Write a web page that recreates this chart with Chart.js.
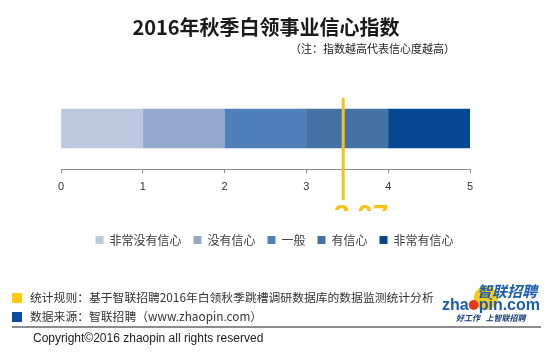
<!DOCTYPE html>
<html>
<head>
<meta charset="utf-8">
<script src="https://cdn.jsdelivr.net/npm/chart.js@4/dist/chart.umd.min.js"></script>
<style>
  html, body { margin: 0; padding: 0; background: #fff; }
  #wrap { position: relative; width: 550px; height: 353px; }
</style>
</head>
<body>
<div id="wrap"><canvas id="chart" width="550" height="353"></canvas></div>
<script>
'use strict';

const categories = ['白领事业信心指数'];
const levels = ['非常没有信心', '没有信心', '一般', '有信心', '非常有信心'];
const levelSpans = [1, 1, 1, 1, 1];
const levelColors = ['#BCC8DF', '#94A9CE', '#4F80BA', '#4472A4', '#044793'];
const indexValue = 3.45;
const indexLabel = '3.07';
const axisMin = 0;
const axisMax = 5;

const CJK = '"Noto Sans CJK SC", "Noto Sans", sans-serif';
const LATIN = '"Liberation Sans", Arial, sans-serif';

function buildDatasets() {
  return levels.map((name, i) => ({
    label: name,
    data: [levelSpans[i]],
    backgroundColor: levelColors[i],
    borderWidth: 0,
    barThickness: 39,
  }));
}

// title, marker, notes and logo around the bar
const extrasPlugin = {
  id: 'extras',
  afterDraw(chart) {
    const ctx = chart.ctx;
    const area = chart.chartArea;
    const x = chart.scales.x.getPixelForValue(indexValue);

    ctx.save();
    ctx.fillStyle = '#1a1a1a';
    ctx.textAlign = 'center';
    ctx.textBaseline = 'middle';
    ctx.font = 'bold 20px ' + CJK;
    ctx.fillText('2016年秋季白领事业信心指数', 266, 27);

    ctx.textAlign = 'left';
    ctx.font = '11px ' + CJK;
    ctx.fillStyle = '#222';
    ctx.fillText('（注：指数越高代表信心度越高）', 290, 49);

    // index marker
    ctx.strokeStyle = '#F6C315';
    ctx.lineWidth = 3;
    ctx.beginPath();
    ctx.moveTo(x, area.top + 10);
    ctx.lineTo(x, area.bottom + 31);
    ctx.stroke();

    ctx.save();
    ctx.beginPath();
    ctx.rect(0, 0, chart.width, area.bottom + 42);
    ctx.clip();
    ctx.fillStyle = '#F6C315';
    ctx.textAlign = 'center';
    ctx.textBaseline = 'alphabetic';
    ctx.font = 'bold 28px ' + LATIN;
    ctx.fillText(indexLabel, x + 18, 224);
    ctx.restore();

    // notes
    ctx.fillStyle = '#FFC90E';
    ctx.fillRect(12, 293, 10, 10);
    ctx.fillStyle = '#0A4DA2';
    ctx.fillRect(12, 312, 10, 10);
    ctx.fillStyle = '#333';
    ctx.font = '11.8px ' + CJK;
    ctx.textBaseline = 'middle';
    ctx.fillText('统计规则：基于智联招聘2016年白领秋季跳槽调研数据库的数据监测统计分析', 30, 298);
    ctx.fillText('数据来源：智联招聘（www.zhaopin.com）', 30, 317);

    ctx.strokeStyle = '#666';
    ctx.lineWidth = 1.5;
    ctx.beginPath();
    ctx.moveTo(12, 327);
    ctx.lineTo(541, 327);
    ctx.stroke();

    ctx.fillStyle = '#222';
    ctx.font = '12px ' + LATIN;
    ctx.fillText('Copyright©2016 zhaopin all rights reserved', 33, 339);

    // logo
    ctx.fillStyle = '#F9CB1C';
    ctx.beginPath();
    ctx.arc(486, 298, 12, 0, Math.PI * 2);
    ctx.fill();
    ctx.fillStyle = '#1B5DB0';
    ctx.textBaseline = 'alphabetic';
    ctx.font = 'italic bold 15px ' + CJK;
    ctx.fillText('智联招聘', 477, 297);
    ctx.font = 'bold 16px ' + LATIN;
    const left = 442;
    ctx.fillText('zha', left, 310);
    const w1 = ctx.measureText('zha').width;
    ctx.fillStyle = '#E23B1B';
    ctx.beginPath();
    ctx.arc(left + w1 + 5, 305, 5, 0, Math.PI * 2);
    ctx.fill();
    ctx.fillStyle = '#1B5DB0';
    ctx.fillText('pin.com', left + w1 + 10, 310);
    ctx.fillStyle = '#1B3F7A';
    ctx.font = 'italic bold 8px ' + CJK;
    ctx.fillText('好工作   上智联招聘', 456, 321);
    ctx.restore();
  },
};

function onContentLoad() {
  const canvas = document.getElementById('chart');
  new Chart(canvas.getContext('2d'), {
    type: 'bar',
    data: { labels: categories, datasets: buildDatasets() },
    options: {
      indexAxis: 'y',
      responsive: false,
      animation: false,
      devicePixelRatio: 1,
      layout: { padding: { top: 88, left: 61, right: 62, bottom: 97 } },
      datasets: { bar: { categoryPercentage: 1, barPercentage: 1 } },
      scales: {
        x: {
          type: 'linear',
          min: axisMin,
          max: axisMax,
          stacked: true,
          ticks: { stepSize: 1, padding: 7, color: '#333', font: { size: 11, family: LATIN } },
          grid: { drawOnChartArea: false, drawTicks: true, tickLength: 4, color: '#8c8c8c' },
          border: { color: '#8c8c8c' },
          afterFit(scale) { scale.height = 53; },
        },
        // empty right-hand axis, only to centre the legend like the original
        y: {
          stacked: true,
          position: 'right',
          ticks: { display: false },
          grid: { display: false },
          border: { display: false },
          afterFit(scale) { scale.width = 18; },
        },
      },
      plugins: {
        legend: {
          position: 'bottom',
          labels: {
            boxWidth: 8,
            boxHeight: 8,
            padding: 12,
            color: '#404040',
            font: { size: 12, family: CJK },
          },
        },
        tooltip: { enabled: false },
      },
    },
    plugins: [extrasPlugin],
  });
}

document.addEventListener('DOMContentLoaded', onContentLoad);
</script>
</body>
</html>
